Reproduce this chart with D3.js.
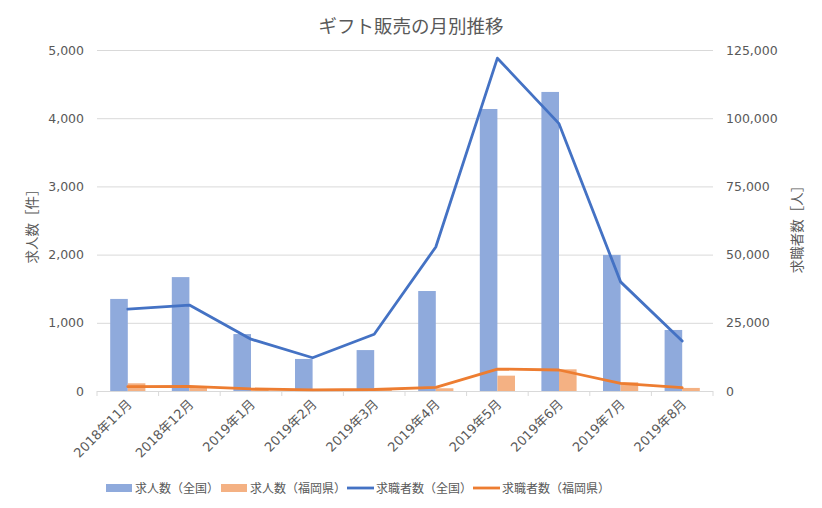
<!DOCTYPE html>
<html><head><meta charset="utf-8">
<script src="https://cdn.jsdelivr.net/npm/d3@7"></script>
<style>
body{margin:0;background:#fff;}
text{font-family:"Noto Sans CJK JP","Noto Sans",sans-serif;fill:#595959;}
text.num{font-family:"DejaVu Sans","Noto Sans CJK JP",sans-serif;}
</style></head>
<body><svg id="c" width="822" height="508"></svg>
<script>
const categories = ["2018年11月","2018年12月","2019年1月","2019年2月","2019年3月","2019年4月","2019年5月","2019年6月","2019年7月","2019年8月"];
const jobsNational = [1350,1670,835,470,600,1466,4135,4385,1995,895];
const jobsFukuoka = [113,65,20,10,20,40,225,318,128,45];
const seekersNational = [30000,31500,19000,12200,20800,52800,122000,98000,40000,18300];
const seekersFukuoka = [1600,1700,750,400,550,1350,8050,7700,2800,1200];
const leftTicks = [0,1000,2000,3000,4000,5000];
const rightTicks = [0,25000,50000,75000,100000,125000];
const seriesNames = ["求人数（全国）","求人数（福岡県）","求職者数（全国）","求職者数（福岡県）"];

const svg = d3.select("#c");
const L=97, R=713, T=50, B=391;
const x = d3.scaleBand().domain(categories).range([L,R]);
const yL = d3.scaleLinear().domain([0,5000]).range([B,T]);
const yR = d3.scaleLinear().domain([0,125000]).range([B,T]);
const fmt = d3.format(",");
const cBlueBar="#8faadc", cOrangeBar="#f4b183", cBlueLine="#4472c4", cOrangeLine="#ed7d31";

// gridlines
svg.append("g").selectAll("line").data(leftTicks.slice(1)).join("line")
  .attr("x1",L).attr("x2",R).attr("y1",d=>yL(d)+0.5).attr("y2",d=>yL(d)+0.5)
  .attr("stroke","#d9d9d9").attr("stroke-width",1);
// axis line + ticks
svg.append("line").attr("x1",L).attr("x2",R).attr("y1",B+0.5).attr("y2",B+0.5).attr("stroke","#d9d9d9");
svg.append("g").selectAll("line").data(d3.range(categories.length+1)).join("line")
  .attr("x1",i=>L+i*x.step()).attr("x2",i=>L+i*x.step()).attr("y1",B).attr("y2",B+5).attr("stroke","#d9d9d9");

// axis tick labels
svg.append("g").selectAll("text").data(leftTicks).join("text").attr("class","num")
  .attr("x",L-13).attr("y",d=>yL(d)+4.5).attr("text-anchor","end").attr("font-size",12.5).text(fmt);
svg.append("g").selectAll("text").data(rightTicks).join("text").attr("class","num")
  .attr("x",R+13).attr("y",d=>yR(d)+4.5).attr("text-anchor","start").attr("font-size",12.5).text(fmt);

// bars
const bw = x.step()/3.5;
svg.append("g").selectAll("rect").data(jobsNational).join("rect")
  .attr("x",(d,i)=>x(categories[i])+x.step()/2-bw).attr("width",bw)
  .attr("y",d=>yL(d)).attr("height",d=>B-yL(d)).attr("fill",cBlueBar);
svg.append("g").selectAll("rect").data(jobsFukuoka).join("rect")
  .attr("x",(d,i)=>x(categories[i])+x.step()/2).attr("width",bw)
  .attr("y",d=>yL(d)).attr("height",d=>B-yL(d)).attr("fill",cOrangeBar);

// lines
const cx = i=>x(categories[i])+x.step()/2;
const line = d3.line().x((d,i)=>cx(i)).y(d=>yR(d));
svg.append("path").datum(seekersNational).attr("d",line).attr("fill","none")
  .attr("stroke",cBlueLine).attr("stroke-width",2.8).attr("stroke-linejoin","round").attr("stroke-linecap","round");
svg.append("path").datum(seekersFukuoka).attr("d",line).attr("fill","none")
  .attr("stroke",cOrangeLine).attr("stroke-width",2.8).attr("stroke-linejoin","round").attr("stroke-linecap","round");

// x labels
svg.append("g").selectAll("text").data(categories).join("text").attr("class","num")
  .attr("transform",(d,i)=>`translate(${cx(i)+5},${B+14}) rotate(-45)`)
  .attr("text-anchor","end").attr("font-size",13).text(d=>d);

// title
svg.append("text").attr("x",411).attr("y",33).attr("text-anchor","middle").attr("font-size",18.5).text("ギフト販売の月別推移");
// axis titles
svg.append("text").attr("transform","translate(37,223) rotate(-90)").attr("text-anchor","middle").attr("font-size",13.5).text("求人数［件］");
svg.append("text").attr("transform","translate(802,226) rotate(-90)").attr("text-anchor","middle").attr("font-size",13.5).text("求職者数［人］");

// legend
const lg = [
  {x:106,type:"rect",c:cBlueBar},
  {x:221,type:"rect",c:cOrangeBar},
  {x:347,type:"line",c:cBlueLine},
  {x:473,type:"line",c:cOrangeLine}];
const ly=488;
lg.forEach((o,i)=>{
  if(o.type==="rect") svg.append("rect").attr("x",o.x).attr("y",ly-4).attr("width",26).attr("height",8).attr("fill",o.c);
  else svg.append("line").attr("x1",o.x).attr("x2",o.x+27).attr("y1",ly).attr("y2",ly).attr("stroke",o.c).attr("stroke-width",2.8);
  svg.append("text").attr("x",o.x+29).attr("y",ly+5).attr("font-size",12).text(seriesNames[i]);
});
</script></body></html>
